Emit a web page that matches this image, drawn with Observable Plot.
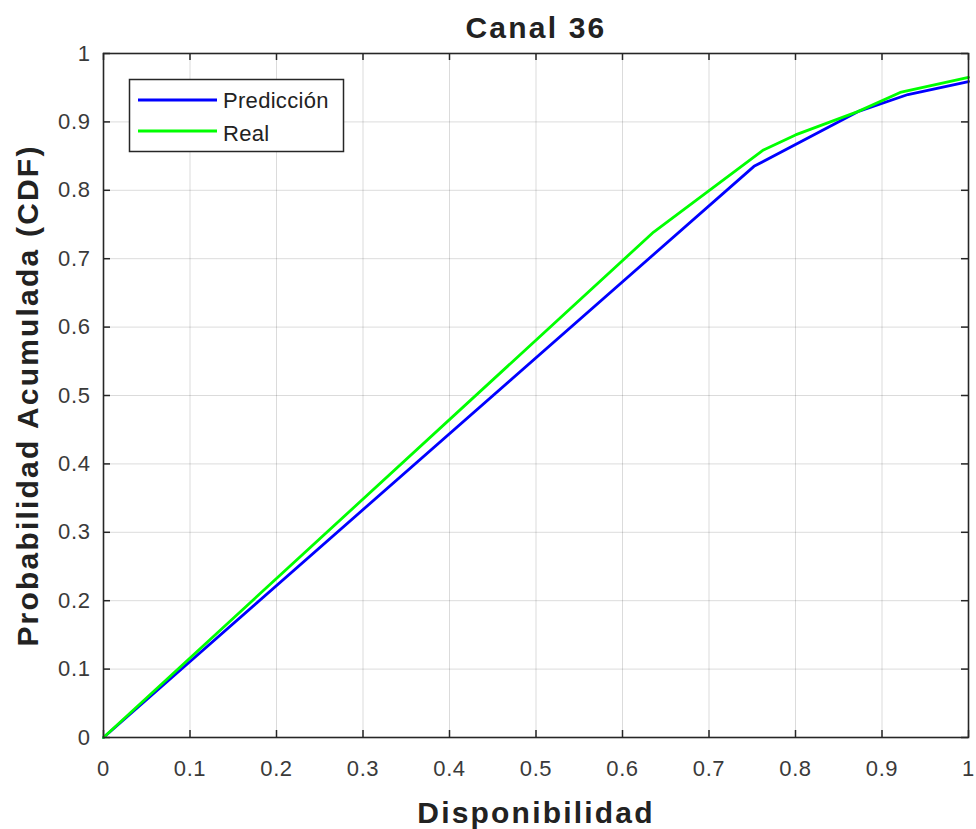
<!DOCTYPE html>
<html>
<head>
<meta charset="utf-8">
<script src="https://cdn.jsdelivr.net/npm/d3@7"></script>
<script src="https://cdn.jsdelivr.net/npm/@observablehq/plot@0.6"></script>
<style>
  html, body { margin: 0; padding: 0; background: #fff; }
  #chart svg { font-family: "Liberation Sans", Arial, Helvetica, sans-serif; display: block; }
</style>
</head>
<body>
<div id="chart"></div>
<script>
// ---- Data ----
const title = "Canal 36";
const xLabel = "Disponibilidad";
const yLabel = "Probabilidad Acumulada (CDF)";
const seriesNames = ["Predicción", "Real"];
const seriesColors = ["#0000ff", "#00ff00"];

const predX = [0, 0.752, 0.872, 0.93, 1];
const predY = [0, 0.835, 0.915, 0.94, 0.959];

const realX = [0, 0.636, 0.763, 0.8, 0.872, 0.921, 1];
const realY = [0, 0.739, 0.859, 0.881, 0.915, 0.943, 0.965];

const xTicks = [0, 0.1, 0.2, 0.3, 0.4, 0.5, 0.6, 0.7, 0.8, 0.9, 1];
const yTicks = [0, 0.1, 0.2, 0.3, 0.4, 0.5, 0.6, 0.7, 0.8, 0.9, 1];
const tickLabels = ["0", "0.1", "0.2", "0.3", "0.4", "0.5", "0.6", "0.7", "0.8", "0.9", "1"];

// ---- Build ----
const W = 976, H = 829;
const mL = 103, mR = 8, mT = 53, mB = 92;
const fw = W - mL - mR, fh = H - mT - mB;
const tickLen = 7;

const pred = predX.map((x, i) => ({x, y: predY[i]}));
const real = realX.map((x, i) => ({x, y: realY[i]}));
const xt = xTicks.map((v, i) => ({v, label: tickLabels[i]}));
const yt = yTicks.map((v, i) => ({v, label: tickLabels[i]}));

const darkText = "#222";
const tickText = "#3a3a3a";
const axisColor = "#262626";

const plot = Plot.plot({
  width: W, height: H,
  marginLeft: mL, marginRight: mR, marginTop: mT, marginBottom: mB,
  x: {domain: [0, 1], axis: null},
  y: {domain: [0, 1], axis: null},
  marks: [
    Plot.gridX(xTicks, {stroke: "#000", strokeOpacity: 0.14, strokeWidth: 1}),
    Plot.gridY(yTicks, {stroke: "#000", strokeOpacity: 0.14, strokeWidth: 1}),
    // inward ticks on all four sides
    Plot.tickX(xTicks, {x: d => d, insetTop: fh - tickLen, stroke: axisColor, strokeWidth: 1.5}),
    Plot.tickX(xTicks, {x: d => d, insetBottom: fh - tickLen, stroke: axisColor, strokeWidth: 1.5}),
    Plot.tickY(yTicks, {y: d => d, insetRight: fw - tickLen, stroke: axisColor, strokeWidth: 1.5}),
    Plot.tickY(yTicks, {y: d => d, insetLeft: fw - tickLen, stroke: axisColor, strokeWidth: 1.5}),
    Plot.line(pred, {x: "x", y: "y", stroke: seriesColors[0], strokeWidth: 2.8}),
    Plot.line(real, {x: "x", y: "y", stroke: seriesColors[1], strokeWidth: 2.8}),
    Plot.frame({stroke: axisColor, strokeWidth: 1.6}),
    // tick labels
    Plot.text(xt, {x: "v", text: "label", frameAnchor: "bottom", dy: 31, fontSize: 22, fill: tickText, lineAnchor: "middle", className: "ticklab"}),
    Plot.text(yt, {y: "v", text: "label", frameAnchor: "left", dx: -13, textAnchor: "end", fontSize: 22, fill: tickText, lineAnchor: "middle", className: "ticklab"}),
    // title and axis labels
    Plot.text([title], {frameAnchor: "top", dy: -16, lineAnchor: "bottom", fontSize: 30, fontWeight: "bold", fill: darkText}),
    Plot.text([xLabel], {frameAnchor: "bottom", dy: 85, lineAnchor: "bottom", fontSize: 30, fontWeight: "bold", fill: darkText}),
    Plot.text([yLabel], {frameAnchor: "left", dx: -66, rotate: -90, textAnchor: "middle", lineAnchor: "bottom", fontSize: 30, fontWeight: "bold", fill: darkText})
  ]
});

document.getElementById("chart").appendChild(plot);

const svg = d3.select(plot);
svg.selectAll("g[font-weight='bold'] text, text[font-weight='bold']").style("letter-spacing", "2.2px");
svg.selectAll(".ticklab text").style("letter-spacing", "0.6px");

// ---- Legend ----
const lg = svg.append("g").attr("font-family", "Liberation Sans, Arial, sans-serif").attr("text-anchor", "start");
lg.append("rect").attr("x", 129.5).attr("y", 79.5).attr("width", 214).attr("height", 72)
  .attr("fill", "#fff").attr("stroke", axisColor).attr("stroke-width", 1.5);
const rowsY = [100, 131];
seriesNames.forEach((name, i) => {
  lg.append("line").attr("x1", 138).attr("x2", 217).attr("y1", rowsY[i]).attr("y2", rowsY[i])
    .attr("stroke", seriesColors[i]).attr("stroke-width", 2.8);
  lg.append("text").attr("x", 223).attr("y", rowsY[i] + 8 + i * 2).attr("font-size", 22)
    .attr("text-anchor", "start").attr("fill", "#222").style("letter-spacing", "0.3px").text(name);
});
</script>
</body>
</html>
